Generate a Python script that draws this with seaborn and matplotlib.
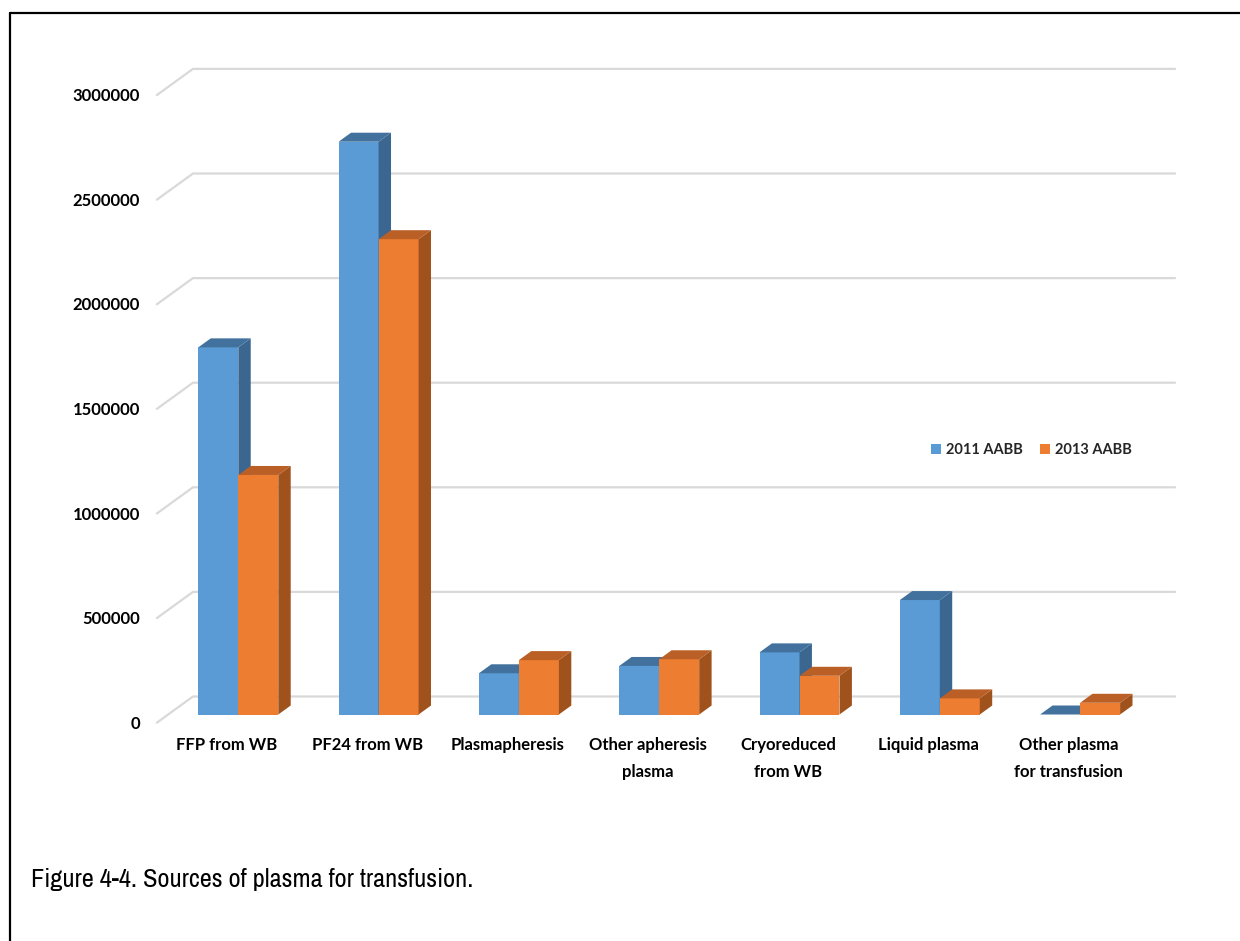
import numpy as np
import pandas as pd
import matplotlib
matplotlib.use("Agg")
import matplotlib.pyplot as plt
import seaborn as sns
from matplotlib.patches import Polygon, Patch
from matplotlib.lines import Line2D
from matplotlib import font_manager

# ---- data -------------------------------------------------------------
categories = [
    "FFP from WB",
    "PF24 from WB",
    "Plasmapheresis",
    "Other apheresis\nplasma",
    "Cryoreduced\nfrom WB",
    "Liquid plasma",
    "Other plasma\nfor transfusion",
]
series_names = ["2011 AABB", "2013 AABB"]
units_2011 = [1755000, 2738000, 197000, 232000, 297000, 547000, 0]
units_2013 = [1145000, 2272000, 260000, 264000, 185000, 77000, 56000]
y_ticks = [0, 500000, 1000000, 1500000, 2000000, 2500000, 3000000]
caption = "Figure 4-4. Sources of plasma for transfusion."

# ---- styling ----------------------------------------------------------
front_colors = ["#5B9BD5", "#ED7D31"]
top_colors = ["#41719C", "#BA5F26"]
side_colors = ["#3A6690", "#A0521C"]
grid_color = "#D9D9D9"


def pick_font(names):
    for n in names:
        try:
            font_manager.findfont(font_manager.FontProperties(family=n),
                                  fallback_to_default=False)
            return n
        except Exception:
            continue
    return "DejaVu Sans"


def narrow_font():
    # any installed narrow / condensed sans family
    for f in font_manager.fontManager.ttflist:
        nm = f.name.lower()
        if ("narrow" in nm or "condensed" in nm) and "mono" not in nm and "serif" not in nm:
            return f.name
    return None


sns.set_theme(style="white")
label_font = pick_font(["Lato", "Open Sans", "DejaVu Sans"])
cond = narrow_font()
if cond is not None:
    caption_font, caption_size = cond, 19
else:
    caption_font, caption_size = pick_font(["Roboto", "DejaVu Sans"]), 17
plt.rcParams["font.family"] = [label_font, "DejaVu Sans"]

W, H, DPI = 1240, 941, 100
fig = plt.figure(figsize=(W / DPI, H / DPI), dpi=DPI)
fig.patch.set_facecolor("white")

# axes covers the front plane of the bars
px_per_cat = 140.3
px_per_unit = 209.2e-6
x_lo, x_hi = -0.6, 6.6
y_lo, y_hi = 0, 3100000
cat0_px, base_px = 238.3, 714.5
left_px = cat0_px + x_lo * px_per_cat
ax_w = (x_hi - x_lo) * px_per_cat
ax_h = (y_hi - y_lo) * px_per_unit
ax = fig.add_axes([left_px / W, (H - base_px) / H, ax_w / W, ax_h / H])
ax.set_xlim(x_lo, x_hi)
ax.set_ylim(y_lo, y_hi)
ax.axis("off")

df = pd.DataFrame({
    "category": categories * 2,
    "units": units_2011 + units_2013,
    "series": [series_names[0]] * len(categories) + [series_names[1]] * len(categories),
})

sns.barplot(data=df, x="category", y="units", hue="series",
            order=categories, hue_order=series_names,
            palette=front_colors, saturation=1, width=0.57,
            edgecolor="none", linewidth=0, legend=False, ax=ax)
ax.set_xlim(x_lo, x_hi)
ax.set_ylim(y_lo, y_hi)

# oblique depth: a shift of d pixels upward moves slope*d pixels right
slope = 1.38
d_front, d_bar_back, d_wall = -8.2, 9.0, 18.0


def shifted(x, y, d):
    return (x + slope * d / px_per_cat, y + d / px_per_unit)


# gridlines on the back wall with a diagonal running across the floor
for v in y_ticks:
    p0 = shifted(-0.5, v, d_front)
    p1 = shifted(-0.5, v, d_wall)
    p2 = shifted(6.5, v, d_wall)
    ax.add_line(Line2D([p0[0], p1[0], p2[0]], [p0[1], p1[1], p2[1]],
                       color=grid_color, lw=1.6, zorder=0.5,
                       solid_joinstyle="miter", clip_on=False))
    ax.annotate(f"{v}", xy=p0, xytext=(-17, -1), textcoords="offset pixels",
                ha="right", va="center", fontsize=12, fontweight="bold",
                color="black", annotation_clip=False)

# front faces plus the top and right faces of each bar
for k, cont in enumerate(ax.containers):
    z = 2 + k
    for bar in cont:
        bar.set_zorder(z)
        x0 = bar.get_x()
        x1 = x0 + bar.get_width()
        h = bar.get_height()
        top = [(x0, h), (x1, h), shifted(x1, h, d_bar_back), shifted(x0, h, d_bar_back)]
        side = [(x1, 0), (x1, h), shifted(x1, h, d_bar_back), shifted(x1, 0, d_bar_back)]
        if h > 0:
            ax.add_patch(Polygon(side, closed=True, facecolor=side_colors[k],
                                 edgecolor="none", zorder=z, clip_on=False))
        ax.add_patch(Polygon(top, closed=True, facecolor=top_colors[k],
                             edgecolor="none", zorder=z, clip_on=False))
        bar.set_clip_on(False)

# category labels along the front edge of the floor
for i, name in enumerate(categories):
    p = shifted(i, 0, d_front)
    ax.annotate(name, xy=p, xytext=(0, -14), textcoords="offset pixels",
                ha="center", va="top", fontsize=12, fontweight="bold",
                color="black", linespacing=1.85, annotation_clip=False)

# legend
handles = [Patch(facecolor=c, edgecolor="none") for c in front_colors]
fig.legend(handles, series_names, loc="center left",
           bbox_to_anchor=(924 / W, 1 - 450 / H), ncol=2, frameon=False,
           prop={"family": label_font, "weight": "bold", "size": 10.5},
           handlelength=0.65, handleheight=0.65, handletextpad=0.35,
           columnspacing=1.2, borderpad=0)

# caption
fig.text(31 / W, 1 - 887 / H, caption, ha="left", va="baseline",
         fontsize=caption_size, family=caption_font, color="black")

# frame lines along the top and left edges
fig.add_artist(Line2D([10 / W, 1.0], [1 - 12.5 / H, 1 - 12.5 / H],
                      transform=fig.transFigure, color="black", lw=1.6))
fig.add_artist(Line2D([10 / W, 10 / W], [1 - 12.5 / H, 0.0],
                      transform=fig.transFigure, color="black", lw=1.6))

fig.savefig("out.png", dpi=DPI, facecolor="white")
